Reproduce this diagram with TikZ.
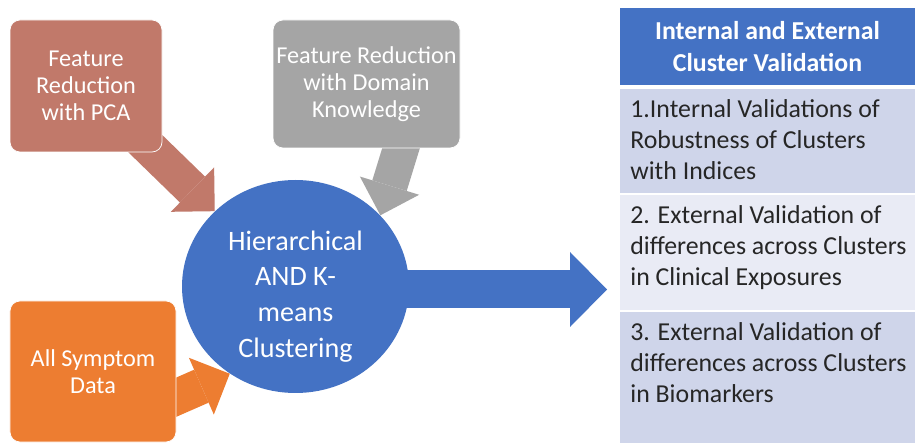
\documentclass[tikz,border=0pt]{standalone}
\usepackage{fontspec}
\setmainfont{Carlito}
\usetikzlibrary{positioning,calc,shapes.geometric,arrows.meta}

\definecolor{pcabrown}{RGB}{193,121,106}
\definecolor{domgray}{RGB}{165,165,165}
\definecolor{symorange}{RGB}{237,125,49}
\definecolor{clublue}{RGB}{68,114,196}
\definecolor{rowdark}{RGB}{207,213,234}
\definecolor{rowlight}{RGB}{233,235,245}

\pgfdeclarelayer{back}
\pgfdeclarelayer{mid}
\pgfsetlayers{back,mid,main}

\begin{document}
\begin{tikzpicture}[
  inbox/.style={draw=white, thin, rounded corners=0.2cm, inner sep=0.05cm, text=white, align=center, font=\fontsize{13.8}{15.3}\selectfont},
  blockarrow/.style={line width=0.72cm, -{Triangle[length=0.62cm,width=1.24cm,line width=0pt]}},
  rowbox/.style={minimum width=5.9cm, inner sep=0pt, outer sep=0pt},
  rowtext/.style={anchor=north west, inner xsep=0.2cm, inner ysep=0.2cm, align=left, text=black!85, font=\fontsize{14.7}{17.6}\selectfont}
]
	\useasboundingbox (0,0) rectangle (18.3,8.86);

	% Inputs
	\node (pca) [inbox, fill=pcabrown, minimum width=3.04cm, minimum height=2.64cm] at (1.72,7.14) {Feature\\Reduction\\with PCA};
	\node (dk) [inbox, fill=domgray, minimum width=3.74cm, minimum height=2.56cm] at (7.33,7.18) {Feature Reduction\\with Domain\\Knowledge};
	\node (sym) [inbox, fill=symorange, minimum width=3.32cm, minimum height=2.82cm] at (1.86,1.43) {All Symptom\\Data};

	% Clustering
	\begin{pgfonlayer}{back}
		\fill[white] (0,0) rectangle (18.3,8.86);
		\node (clu) [ellipse, fill=clublue, minimum width=4.54cm, minimum height=4.26cm] at (5.91,3.13) {};
	\end{pgfonlayer}
	\node (clutxt) [text=white, align=center, font=\fontsize{16}{20.4}\selectfont] at ($(clu.center)+(0,-0.2)$) {Hierarchical\\AND K-\\means\\Clustering};

	% Arrows into the clustering
	\coordinate (dkout) at ($(dk.south)+(0.93,0.78)$);
	\coordinate (symout) at ($(sym.east)+(-0.86,-0.89)$);
	\begin{pgfonlayer}{mid}
		\draw[blockarrow, pcabrown] (pca.center) -- (clu.137);
		\draw[blockarrow, domgray] (dkout) -- (clu.40);
		\draw[blockarrow, symorange] (symout) -- (clu.233);
	\end{pgfonlayer}

	% Validation table
	\node (hdr) [rowbox, fill=clublue, minimum height=1.54cm, text=white, align=center, font=\bfseries\fontsize{14.7}{18.7}\selectfont] at (15.35,7.93) {Internal and External\\Cluster Validation};
	\node (row1) [rowbox, fill=rowdark, minimum height=2.08cm, below=0.08cm of hdr] {};
	\node (row2) [rowbox, fill=rowlight, minimum height=2.3cm, below=0.04cm of row1] {};
	\node (row3) [rowbox, fill=rowdark, minimum height=2.62cm, below=0.04cm of row2] {};
	\node (row1txt) [rowtext] at (row1.north west) {1.Internal Validations of\\Robustness of Clusters\\with Indices};
	\node (row2txt) [rowtext] at (row2.north west) {2. External Validation of\\differences across Clusters\\in Clinical Exposures};
	\node (row3txt) [rowtext] at (row3.north west) {3. External Validation of\\differences across Clusters\\in Biomarkers};

	% Output arrow
	\coordinate (cluout) at ($(clu.east)+(-0.12,-0.06)$);
	\coordinate (valin) at ($(cluout -| hdr.west)+(-0.26,0)$);
	\draw[clublue, line width=0.76cm, -{Triangle[length=0.74cm,width=1.5cm,line width=0pt]}] (cluout) -- (valin);
\end{tikzpicture}
\end{document}
